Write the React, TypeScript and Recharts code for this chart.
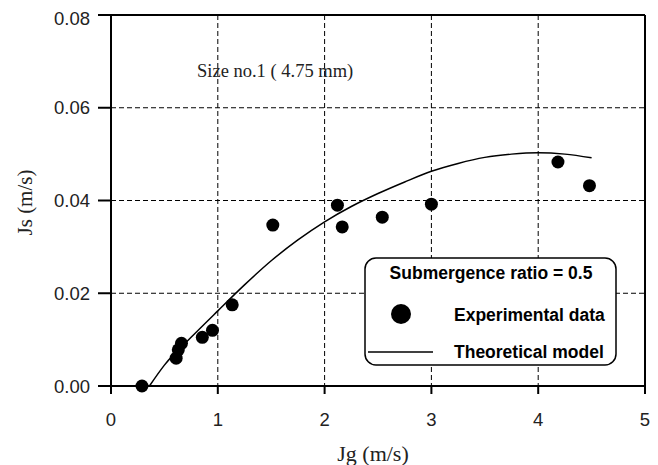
import React from 'react';
import {
  ComposedChart,
  Scatter,
  Line,
  XAxis,
  YAxis,
  CartesianGrid,
  ReferenceLine,
  Label,
} from 'recharts';

const jgExp = [0.29, 0.61, 0.63, 0.66, 0.855, 0.95, 1.135, 1.515, 2.12, 2.165, 2.54, 3.0, 4.185, 4.48];
const jsExp = [0.0, 0.006, 0.0078, 0.0092, 0.0105, 0.012, 0.0175, 0.0347, 0.039, 0.0343, 0.0364, 0.0392, 0.0483, 0.0432];

// theoretical model curve
const jgModel = [0.36, 0.5, 0.75, 1.0, 1.25, 1.5, 1.75, 2.0, 2.25, 2.5, 2.75, 3.0, 3.25, 3.5, 3.75, 4.0, 4.25, 4.5];
const jsModel = [0.0, 0.0045, 0.0105, 0.0162, 0.0218, 0.027, 0.0315, 0.0354, 0.0387, 0.0415, 0.044, 0.0463, 0.048, 0.0493, 0.05, 0.0503, 0.05, 0.0492];

const xTicks = [0, 1, 2, 3, 4, 5];
const yTicks = [0, 0.02, 0.04, 0.06, 0.08];

const expData = jgExp.map((x, i) => ({ jg: x, js: jsExp[i] }));
const modelData = jgModel.map((x, i) => ({ jg: x, js: jsModel[i] }));

const sans = 'Liberation Sans, Arial, sans-serif';
const tickStyle = { fontFamily: sans, fontSize: 18.5, fill: '#222' };
const titleFont = 'Liberation Serif, Times New Roman, serif';
const legendText = { fontFamily: sans, fontSize: 17.5, fontWeight: 700 };

const LegendBox = () => (
  <svg width={254} height={110} style={{ display: 'block' }}>
    <rect x={1} y={1} width={251} height={107} rx={11} fill="#fff" stroke="#000" strokeWidth={1.5} />
    <text x={127} y={16} textAnchor="middle" dominantBaseline="central" style={legendText}>
      Submergence ratio = 0.5
    </text>
    <circle cx={37} cy={57} r={10} fill="#000" />
    <text x={90} y={58} dominantBaseline="central" style={legendText}>
      Experimental data
    </text>
    <line x1={4} x2={69} y1={95} y2={95} stroke="#000" strokeWidth={1.5} />
    <text x={90} y={95} dominantBaseline="central" style={legendText}>
      Theoretical model
    </text>
  </svg>
);

export default function App() {
  return (
    <div style={{ position: 'relative', width: 650, height: 457 }}>
      <ComposedChart width={650} height={457} margin={{ top: 7, right: 13, left: 0, bottom: 0 }}>
        <CartesianGrid stroke="#000" strokeDasharray="5 3" strokeWidth={1} />
        <XAxis
          dataKey="jg"
          type="number"
          domain={[0, 5]}
          ticks={xTicks}
          height={79}
          tickSize={8}
          tickMargin={19}
          tick={tickStyle}
          axisLine={{ stroke: '#000', strokeWidth: 2 }}
          tickLine={{ stroke: '#000', strokeWidth: 2 }}
          allowDuplicatedCategory={false}
        >
          <Label
            content={({ viewBox }: any) => (
              <text x={viewBox.x + viewBox.width / 2 - 5} y={viewBox.y + 67} textAnchor="middle"
                dominantBaseline="central" style={{ fontFamily: titleFont, fontSize: 22, fill: '#222' }}>
                Jg (m/s)
              </text>
            )}
          />
        </XAxis>
        <YAxis
          dataKey="js"
          type="number"
          domain={[0, 0.08]}
          ticks={yTicks}
          width={103}
          tickSize={13}
          tickMargin={8}
          tick={tickStyle}
          tickFormatter={(v: number) => v.toFixed(2)}
          axisLine={{ stroke: '#000', strokeWidth: 2 }}
          tickLine={{ stroke: '#000', strokeWidth: 2 }}
        >
          <Label
            content={({ viewBox }: any) => {
              const cx = viewBox.x + 17;
              const cy = viewBox.y + viewBox.height / 2 + 2;
              return (
                <text x={cx} y={cy} textAnchor="middle" dominantBaseline="central"
                  transform={`rotate(-90 ${cx} ${cy})`}
                  style={{ fontFamily: titleFont, fontSize: 21, fill: '#222' }}>
                  Js (m/s)
                </text>
              );
            }}
          />
        </YAxis>
        <ReferenceLine y={0.08} stroke="#000" strokeWidth={2} />
        <ReferenceLine x={5} stroke="#000" strokeWidth={2} />
        <Line
          data={modelData}
          dataKey="js"
          type="monotone"
          stroke="#000"
          strokeWidth={1.5}
          dot={false}
          isAnimationActive={false}
        />
        <Scatter
          data={expData}
          dataKey="js"
          fill="#000"
          isAnimationActive={false}
          shape={(p: any) => <circle cx={p.cx} cy={p.cy} r={6.5} fill="#000" />}
        />
      </ComposedChart>
      <div style={{ position: 'absolute', left: 356, top: 249 }}>
        <LegendBox />
      </div>
      <svg style={{ position: 'absolute', left: 0, top: 0, pointerEvents: 'none' }} width={400} height={100}>
        <text x={189} y={69} style={{ fontFamily: titleFont, fontSize: 18.5, fill: '#222' }}>
          Size no.1 ( 4.75 mm)
        </text>
      </svg>
    </div>
  );
}
